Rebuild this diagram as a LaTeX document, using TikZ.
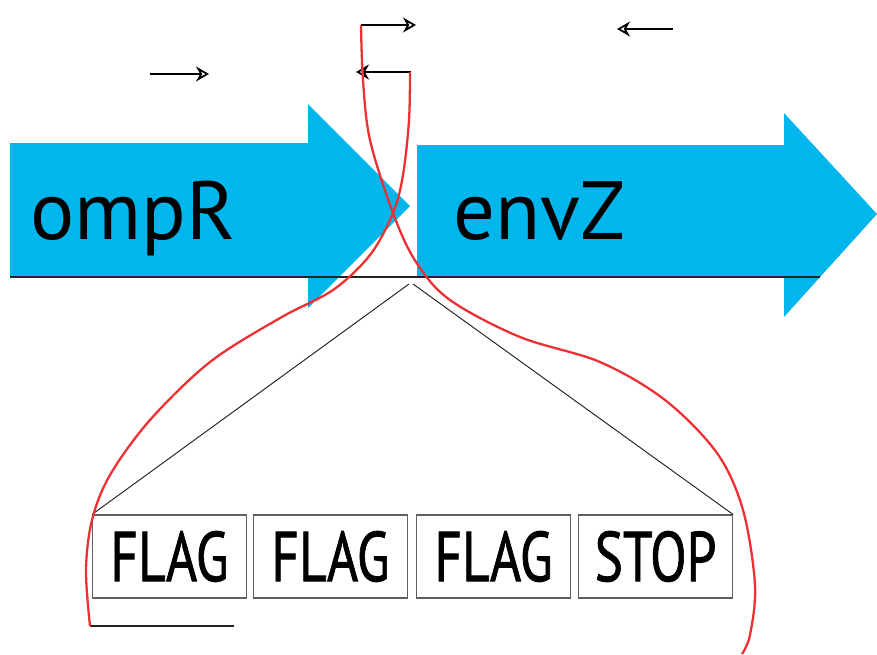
\documentclass[tikz,border=0pt]{standalone}
\usepackage{fontspec}
\setmainfont{PT Sans}
\newfontfamily\tagfont[FakeBold=1.2]{PT Sans}
\usetikzlibrary{arrows.meta, positioning}
\definecolor{genecyan}{RGB}{0,182,237}
\definecolor{loopred}{RGB}{236,48,52}
\definecolor{mydark}{RGB}{35,35,35}
\tikzset{
  tagbox/.style={rectangle, draw=gray!75!black, line width=0.6pt,
    minimum width=3.08cm, minimum height=1.66cm, inner sep=0pt,
    font=\tagfont\fontsize{40}{42}\selectfont},
  primer/.style={-{Stealth[open, length=0.26cm, width=0.3cm]}, line width=1pt, color=black},
  loopline/.style={color=loopred, line width=1.3pt},
  genelabel/.style={anchor=base west, inner sep=0pt, font=\fontsize{47}{52}\selectfont},
  thinline/.style={color=mydark, line width=0.55pt}
}

\begin{document}
\begin{tikzpicture}[x=0.02cm, y=-0.02cm]
  \useasboundingbox (0,0) rectangle (877,654);

  % Gene arrows
  \fill[genecyan] (10,143) -- (308,143) -- (308,104) -- (410,206) -- (308,308) -- (308,277) -- (10,277) -- cycle;
  \fill[genecyan] (417,145) -- (784,145) -- (784,113) -- (877,214) -- (784,317) -- (784,277) -- (417,277) -- cycle;
  \node[genelabel] (ompr) at (30,239) {ompR};
  \node[genelabel] (envz) at (453,239) {envZ};

  % Backbone
  \coordinate (bbL) at (10,277);
  \coordinate (bbR) at (820,277);
  \draw[color=mydark, line width=0.9pt] (bbL) -- (bbR);

  % Tag boxes
  \node[tagbox] (flag1) at (169.5,556.5) {\scalebox{0.76}[1]{FLAG}};
  \node[tagbox, right=0.12cm of flag1] (flag2) {\scalebox{0.76}[1]{FLAG}};
  \node[tagbox, right=0.16cm of flag2] (flag3) {\scalebox{0.76}[1]{FLAG}};
  \node[tagbox, right=0.14cm of flag3] (stop) {\scalebox{0.76}[1]{STOP}};

  % Insertion site zoom lines
  \coordinate (siteL) at (409,284);
  \coordinate (siteR) at (413,284);
  \draw[thinline] (siteL) -- (flag1.north west);
  \draw[thinline] (siteR) -- (stop.north east);

  % Primers
  \coordinate (p1s) at (150,74);  \coordinate (p1e) at (209,74);
  \coordinate (p2s) at (361,25);  \coordinate (p2e) at (416,25);
  \coordinate (p3s) at (411,72);  \coordinate (p3e) at (356,72);
  \coordinate (p4s) at (673,29);  \coordinate (p4e) at (617,29);
  \draw[primer] (p1s) -- (p1e);
  \draw[primer] (p2s) -- (p2e);
  \draw[primer] (p3s) -- (p3e);
  \draw[primer] (p4s) -- (p4e);

  % Underline below first box
  \coordinate (ulL) at (90,626);
  \coordinate (ulR) at (234,626);
  \draw[color=mydark, line width=0.9pt] (ulL) -- (ulR);

  % Red overhang curves
  \draw[loopline, smooth, tension=0.55] plot coordinates {
    (361,25) (363,80) (370,140) (393,213) (416,262)
    (450,300) (520,337) (600,362) (665,400) (717,453) (743,510) (755,585) (750,635) (742,654)
  };
  \draw[loopline, smooth, tension=0.55] plot coordinates {
    (410,72) (409,120) (403,175) (393,213) (370,255) (333,290)
    (280,318) (210,362) (150,420) (110,475) (92,520) (86,570) (90,626)
  };
\end{tikzpicture}
\end{document}
